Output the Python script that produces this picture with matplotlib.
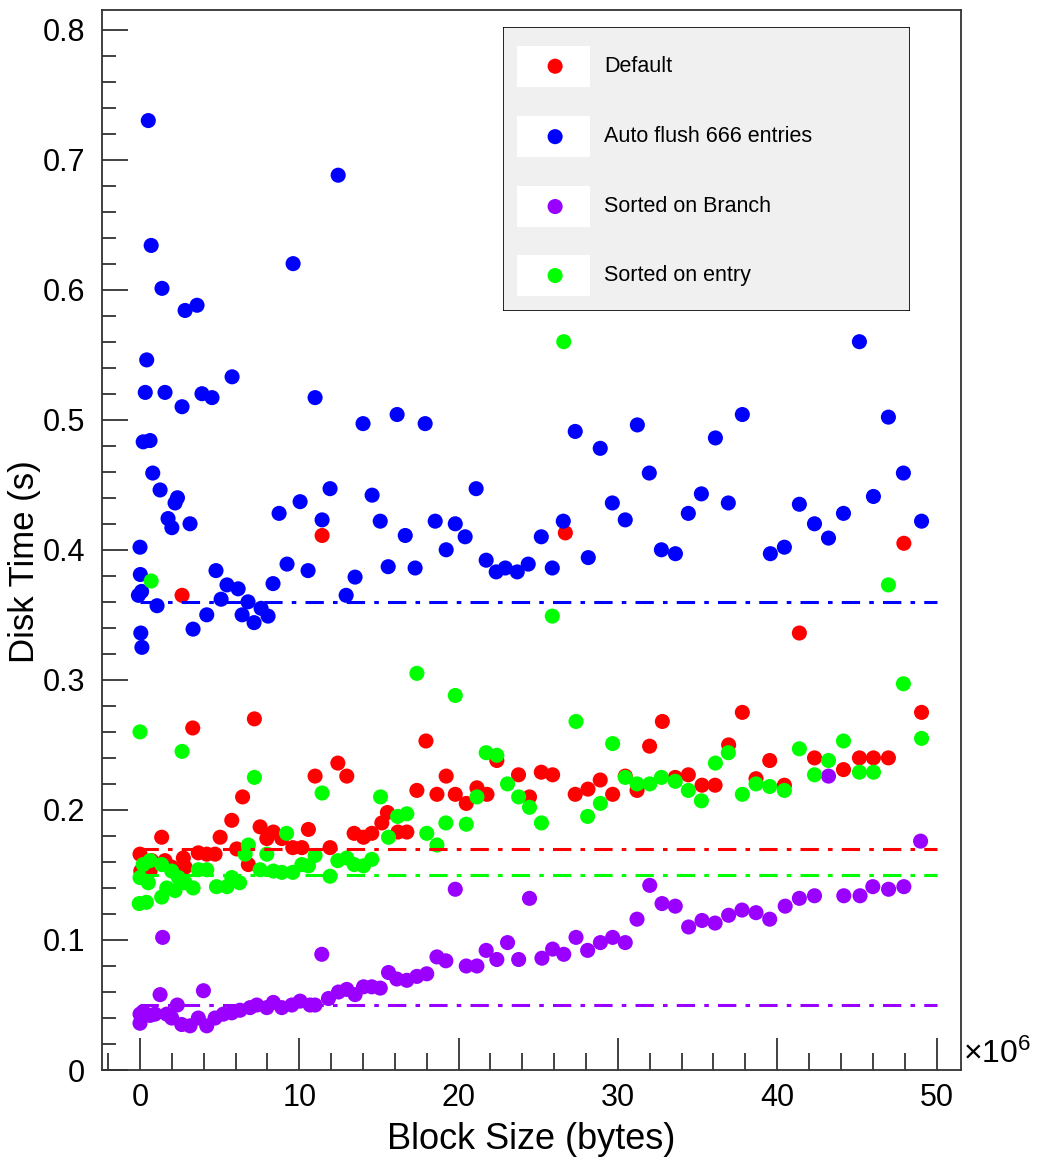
import matplotlib
matplotlib.use("Agg")
import matplotlib.pyplot as plt
from matplotlib.patches import Rectangle
from matplotlib.ticker import MultipleLocator, FuncFormatter

plt.rcParams['font.family'] = ['Liberation Sans', 'DejaVu Sans']
plt.rcParams['mathtext.fontset'] = 'custom'
plt.rcParams['mathtext.rm'] = 'Liberation Sans'

# block size in units of 1e6 bytes, disk time in seconds
default_x = [0.0, 0.05, 0.63, 0.73, 1.36, 1.57, 1.99, 2.64, 2.72, 2.83, 3.31, 3.66,
             4.19, 4.71, 5.03, 5.76, 6.07, 6.44, 6.8, 7.18, 7.54, 7.96, 8.37, 8.9,
             9.59, 10.16, 10.57, 10.99, 11.43, 11.93, 12.42, 12.98, 13.44, 14.03,
             14.55, 15.18, 15.53, 16.19, 16.75, 17.38, 17.95, 18.64, 19.22, 19.79,
             20.48, 21.15, 21.78, 22.4, 23.76, 24.45, 25.19, 25.9, 26.7, 27.32,
             28.12, 28.89, 29.67, 30.46, 31.2, 31.99, 32.79, 33.6, 34.42, 35.28,
             36.1, 36.95, 37.81, 38.67, 39.53, 40.45, 41.39, 42.34, 44.16, 45.16,
             46.04, 46.98, 47.95, 49.06]
default_t = [0.166, 0.153, 0.153, 0.161, 0.179, 0.161, 0.156, 0.365, 0.163, 0.156, 0.263, 0.167,
             0.166, 0.166, 0.179, 0.192, 0.170, 0.210, 0.158, 0.270, 0.187, 0.178, 0.183, 0.178,
             0.171, 0.171, 0.185, 0.226, 0.411, 0.171, 0.236, 0.226, 0.182, 0.179,
             0.182, 0.190, 0.198, 0.183, 0.183, 0.215, 0.253, 0.212, 0.226, 0.212,
             0.205, 0.217, 0.212, 0.238, 0.227, 0.210, 0.229, 0.227, 0.413, 0.212,
             0.216, 0.223, 0.212, 0.226, 0.215, 0.249, 0.268, 0.225, 0.227, 0.219,
             0.219, 0.250, 0.275, 0.224, 0.238, 0.219, 0.336, 0.240, 0.231, 0.240,
             0.240, 0.240, 0.405, 0.275]

flush_x = [0.0, 0.02, 0.1, -0.1, 0.05, 0.12, 0.42, 0.33, 0.2, 0.63, 0.7, 0.52, 0.8,
           1.07, 1.26, 1.38, 1.57, 1.76, 2.0, 2.2, 2.35, 2.64, 2.83, 3.14, 3.33, 3.58,
           3.89, 4.19, 4.52, 4.77, 5.09, 5.46, 5.78, 6.16, 6.41, 6.78, 7.16, 7.6, 8.04,
           8.35, 8.73, 9.23, 9.61, 10.05, 10.55, 10.99, 11.43, 11.93, 12.44, 12.94,
           13.5, 14.0, 14.57, 15.08, 15.58, 16.14, 16.65, 17.27, 17.9, 18.53, 19.22,
           19.79, 20.41, 21.1, 21.73, 22.36, 22.93, 23.68, 24.37, 25.19, 25.88, 26.57,
           27.32, 28.14, 28.89, 29.65, 30.46, 31.22, 31.97, 32.73, 33.61, 34.42, 35.24,
           36.12, 36.93, 37.81, 39.57, 40.45, 41.39, 42.34, 43.22, 44.16, 45.16, 46.04,
           46.98, 47.92, 49.06]
flush_t = [0.402, 0.381, 0.368, 0.365, 0.336, 0.325, 0.546, 0.521, 0.483, 0.484, 0.634, 0.730, 0.459,
           0.357, 0.446, 0.601, 0.521, 0.424, 0.417, 0.436, 0.440, 0.510, 0.584, 0.420, 0.339, 0.588,
           0.520, 0.350, 0.517, 0.384, 0.362, 0.373, 0.533, 0.370, 0.350, 0.360, 0.344, 0.355, 0.349,
           0.374, 0.428, 0.389, 0.620, 0.437, 0.384, 0.517, 0.423, 0.447, 0.688, 0.365,
           0.379, 0.497, 0.442, 0.422, 0.387, 0.504, 0.411, 0.386, 0.497, 0.422, 0.400,
           0.420, 0.410, 0.447, 0.392, 0.383, 0.386, 0.383, 0.389, 0.410, 0.386, 0.422,
           0.491, 0.394, 0.478, 0.436, 0.423, 0.496, 0.459, 0.400, 0.397, 0.428, 0.443,
           0.486, 0.436, 0.504, 0.397, 0.402, 0.435, 0.420, 0.409, 0.428, 0.560, 0.441,
           0.502, 0.459, 0.422]

branch_x = [0.0, 0.0, 0.2, 0.63, 0.94, 1.26, 1.42, 1.68, 1.99, 2.34, 2.62, 3.14, 3.66,
            3.98, 4.19, 4.71, 5.23, 5.76, 6.28, 6.91, 7.33, 7.96, 8.37, 8.9, 9.53, 10.05,
            10.68, 10.99, 11.41, 11.83, 12.46, 12.98, 13.5, 14.03, 14.55, 15.08, 15.6,
            16.12, 16.75, 17.38, 18.0, 18.64, 19.2, 19.79, 20.48, 21.15, 21.73, 22.4,
            23.07, 23.77, 24.45, 25.23, 25.9, 26.6, 27.37, 28.1, 28.9, 29.67, 30.46,
            31.2, 32.0, 32.77, 33.6, 34.44, 35.28, 36.1, 36.95, 37.79, 38.67, 39.53,
            40.5, 41.39, 42.34, 43.22, 44.18, 45.2, 46.0, 46.99, 47.95, 49.0]
branch_t = [0.043, 0.036, 0.045, 0.042, 0.043, 0.058, 0.102, 0.043, 0.040, 0.050, 0.035, 0.034, 0.040,
            0.061, 0.034, 0.040, 0.043, 0.044, 0.046, 0.048, 0.050, 0.048, 0.052, 0.048, 0.050, 0.053,
            0.050, 0.050, 0.089, 0.055, 0.060, 0.062, 0.058, 0.064, 0.064, 0.063, 0.075,
            0.070, 0.069, 0.072, 0.074, 0.087, 0.084, 0.139, 0.080, 0.080, 0.092, 0.085,
            0.098, 0.085, 0.132, 0.086, 0.093, 0.089, 0.102, 0.092, 0.098, 0.102, 0.098,
            0.116, 0.142, 0.128, 0.126, 0.110, 0.115, 0.113, 0.119, 0.123, 0.121, 0.116,
            0.126, 0.132, 0.134, 0.226, 0.134, 0.134, 0.141, 0.139, 0.141, 0.176]

entry_x = [-0.05, 0.0, 0.0, 0.2, 0.4, 0.52, 0.63, 0.7, 1.36, 1.36, 1.68, 1.99, 2.2, 2.41,
           2.64, 2.83, 3.33, 3.66, 4.19, 4.8, 5.46, 5.76, 6.25, 6.6, 6.8, 7.18, 7.54,
           7.96, 8.37, 8.9, 9.2, 9.59, 10.16, 10.57, 10.99, 11.43, 11.93, 12.42, 12.98,
           13.44, 14.03, 14.55, 15.1, 15.6, 16.17, 16.75, 17.38, 18.0, 18.64, 19.2,
           19.79, 20.48, 21.15, 21.73, 22.4, 23.07, 23.77, 24.45, 25.2, 25.88, 26.6,
           27.37, 28.1, 28.9, 29.67, 30.46, 31.2, 32.0, 32.73, 33.6, 34.42, 35.24,
           36.12, 36.93, 37.81, 38.67, 39.53, 40.45, 41.39, 42.34, 43.22, 44.16, 45.16,
           46.04, 46.98, 47.92, 49.06]
entry_t = [0.128, 0.148, 0.260, 0.158, 0.129, 0.144, 0.161, 0.376, 0.133, 0.158, 0.140, 0.153, 0.138, 0.148,
           0.245, 0.144, 0.140, 0.154, 0.154, 0.141, 0.141, 0.148, 0.144, 0.166, 0.173, 0.225, 0.154,
           0.166, 0.153, 0.152, 0.182, 0.152, 0.158, 0.157, 0.165, 0.213, 0.149, 0.161, 0.163,
           0.158, 0.157, 0.162, 0.210, 0.179, 0.195, 0.197, 0.305, 0.182, 0.173, 0.190,
           0.288, 0.189, 0.210, 0.244, 0.242, 0.220, 0.210, 0.202, 0.190, 0.349, 0.560,
           0.268, 0.195, 0.205, 0.251, 0.225, 0.220, 0.220, 0.225, 0.222, 0.215, 0.207,
           0.236, 0.244, 0.212, 0.220, 0.218, 0.215, 0.247, 0.227, 0.238, 0.253, 0.229,
           0.229, 0.373, 0.297, 0.255]

# horizontal reference levels per configuration
ref_default = 0.17
ref_flush = 0.36
ref_branch = 0.05
ref_entry = 0.15
ref_span = (0.0, 50.0)

labels = ['Default', 'Auto flush 666 entries', 'Sorted on Branch', 'Sorted on entry']
colors = ['#ff0000', '#0000ff', '#9900ff', '#00ff00']

fig = plt.figure(figsize=(10.41, 11.65), dpi=100)
ax = fig.add_axes([0.098, 0.0815, 0.8252, 0.9099])

series = [(default_x, default_t), (flush_x, flush_t), (branch_x, branch_t), (entry_x, entry_t)]
for (xs, ts), c in zip(series, colors):
    ax.scatter(xs, ts, s=118, color=c, edgecolors='none', zorder=3)

for ref, c in zip([ref_default, ref_flush, ref_branch, ref_entry], colors):
    ln, = ax.plot(ref_span, [ref, ref], color=c, lw=2.2, zorder=4)
    ln.set_dashes([6, 3, 1.5, 3])

ax.set_xlim(-2.385, 51.54)
ax.set_ylim(0, 0.815)

ax.xaxis.set_major_locator(MultipleLocator(10))
ax.xaxis.set_minor_locator(MultipleLocator(2))
ax.yaxis.set_major_locator(MultipleLocator(0.1))
ax.yaxis.set_minor_locator(MultipleLocator(0.02))
ax.yaxis.set_major_formatter(FuncFormatter(lambda v, p: '%g' % round(v, 2)))

ax.tick_params(axis='both', which='both', direction='in', top=False, right=False,
               width=1.3, color='#333333', labelsize=22)
ax.tick_params(axis='y', which='major', length=19, pad=12)
ax.tick_params(axis='y', which='minor', length=10)
ax.tick_params(axis='x', which='major', length=23, pad=9)
ax.tick_params(axis='x', which='minor', length=12)
for sp in ax.spines.values():
    sp.set_linewidth(1.3)
    sp.set_color('#333333')

ax.set_xlabel('Block Size (bytes)', fontsize=26, labelpad=7)
ax.set_ylabel('Disk Time (s)', fontsize=25, labelpad=1, y=0.48)
ax.text(1.002, 0.0, r'$\times\mathregular{10^{6}}$', transform=ax.transAxes,
        fontsize=23, ha='left', va='bottom')

# legend panel
leg = fig.add_axes([0.4832, 0.733, 0.391, 0.2438])
leg.set_xlim(0, 1)
leg.set_ylim(0, 1)
leg.axis('off')
leg.add_patch(Rectangle((0, 0), 1, 1, facecolor='#f0f0f0', edgecolor='black', lw=1.2))
rows = [0.862, 0.614, 0.368, 0.125]
for yr, c, lab in zip(rows, colors, labels):
    leg.add_patch(Rectangle((0.034, yr - 0.072), 0.18, 0.144, facecolor='white', edgecolor='none'))
    leg.scatter([0.128], [yr], s=118, color=c, edgecolors='none')
    leg.text(0.248, yr, lab, fontsize=15.5, va='center', ha='left')

fig.savefig('out.png', dpi=100)
